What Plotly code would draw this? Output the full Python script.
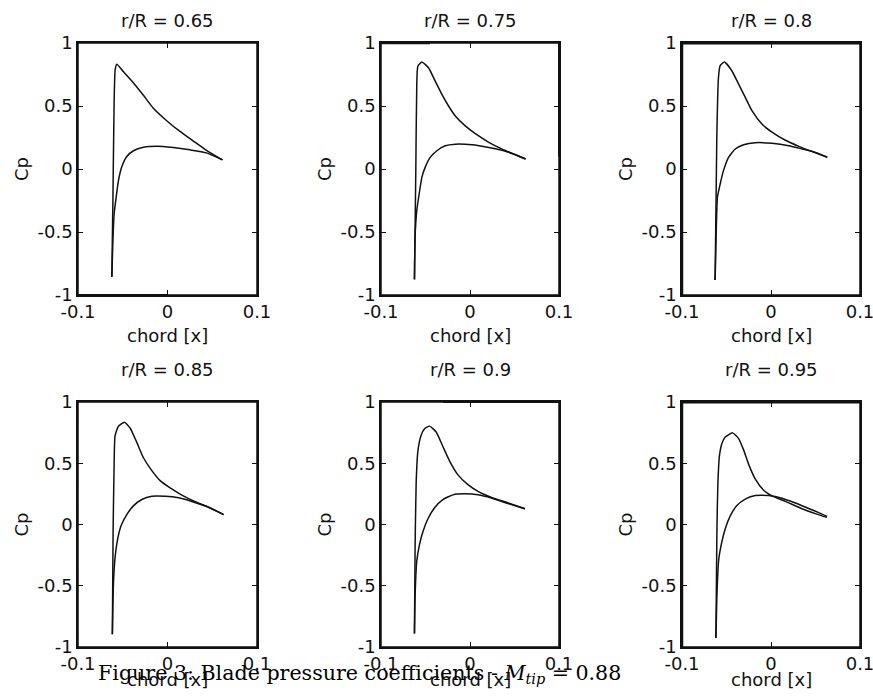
import plotly.graph_objects as go

W, H = 873, 700

titles = ["r/R = 0.65", "r/R = 0.75", "r/R = 0.8", "r/R = 0.85", "r/R = 0.9", "r/R = 0.95"]
x_ticks = [-0.1, 0, 0.1]
x_tick_labels = ["-0.1", "0", "0.1"]
y_ticks = [-1, -0.5, 0, 0.5, 1]
y_tick_labels = ["-1", "-0.5", "0", "0.5", "1"]
x_label = "chord [x]"
y_label = "Cp"
caption = "Figure 3: Blade pressure coefficients - <i>M</i><sub><i>tip</i></sub> = 0.88"

# r/R = 0.65
x_up_065 = [-0.0622, -0.061, -0.0596, -0.0584, -0.0566, -0.0492, -0.038, -0.0269, -0.0158, -0.0009, 0.0139, 0.0288, 0.0436, 0.0614]
cp_up_065 = [-0.856, -0.248, 0.552, 0.792, 0.832, 0.772, 0.683, 0.585, 0.482, 0.383, 0.298, 0.222, 0.148, 0.072]
x_lo_065 = [-0.0622, -0.061, -0.0596, -0.0573, -0.0547, -0.051, -0.0455, -0.038, -0.0269, -0.0121, 0.0065, 0.025, 0.0436, 0.0614]
cp_lo_065 = [-0.856, -0.568, -0.355, -0.221, -0.088, 0.019, 0.099, 0.145, 0.172, 0.18, 0.17, 0.152, 0.128, 0.072]

# r/R = 0.75
x_up_075 = [-0.0624, -0.0609, -0.0598, -0.0586, -0.0541, -0.0466, -0.0391, -0.0316, -0.0241, -0.0165, -0.0053, 0.006, 0.0211, 0.0361, 0.0511, 0.0624]
cp_up_075 = [-0.876, -0.013, 0.671, 0.816, 0.85, 0.803, 0.697, 0.592, 0.5, 0.421, 0.342, 0.28, 0.212, 0.158, 0.113, 0.079]
x_lo_075 = [-0.0624, -0.0617, -0.0598, -0.0571, -0.0541, -0.0504, -0.0447, -0.0372, -0.0278, -0.0165, 0.0023, 0.0211, 0.0361, 0.0511, 0.0624]
cp_lo_075 = [-0.876, -0.539, -0.329, -0.197, -0.066, 0.013, 0.092, 0.145, 0.184, 0.197, 0.192, 0.171, 0.148, 0.113, 0.079]

# r/R = 0.8
x_up_080 = [-0.0628, -0.0609, -0.059, -0.0571, -0.0523, -0.044, -0.0365, -0.0289, -0.0214, -0.0102, 0.0011, 0.0162, 0.0312, 0.0462, 0.0632]
cp_up_080 = [-0.881, 0.251, 0.728, 0.82, 0.849, 0.78, 0.675, 0.569, 0.463, 0.357, 0.293, 0.228, 0.18, 0.138, 0.093]
x_lo_080 = [-0.0628, -0.0617, -0.0602, -0.0571, -0.0534, -0.0477, -0.0402, -0.0308, -0.0177, 0.0011, 0.0199, 0.035, 0.05, 0.0632]
cp_lo_080 = [-0.881, -0.542, -0.225, -0.119, -0.013, 0.093, 0.159, 0.193, 0.209, 0.204, 0.185, 0.159, 0.132, 0.093]

# r/R = 0.85
x_up_085 = [-0.0616, -0.0608, -0.0597, -0.0586, -0.0549, -0.0481, -0.0418, -0.0343, -0.0269, -0.0175, -0.0082, 0.003, 0.016, 0.031, 0.0459, 0.0627]
cp_up_085 = [-0.895, -0.063, 0.461, 0.723, 0.801, 0.835, 0.788, 0.67, 0.545, 0.44, 0.358, 0.298, 0.24, 0.186, 0.141, 0.081]
x_lo_085 = [-0.0616, -0.0604, -0.0586, -0.0556, -0.0519, -0.0455, -0.0381, -0.0287, -0.0175, -0.0026, 0.0123, 0.0272, 0.0459, 0.0627]
cp_lo_085 = [-0.895, -0.482, -0.272, -0.115, -0.01, 0.081, 0.152, 0.204, 0.23, 0.23, 0.218, 0.188, 0.141, 0.081]

# r/R = 0.9
x_up_090 = [-0.0624, -0.0617, -0.0605, -0.0586, -0.0549, -0.0511, -0.0455, -0.038, -0.0305, -0.0229, -0.0135, -0.0023, 0.009, 0.0241, 0.0429, 0.0617]
cp_up_090 = [-0.889, -0.192, 0.334, 0.597, 0.729, 0.782, 0.803, 0.755, 0.637, 0.518, 0.405, 0.325, 0.27, 0.221, 0.176, 0.129]
x_lo_090 = [-0.0624, -0.0617, -0.0598, -0.0568, -0.053, -0.0474, -0.0398, -0.0305, -0.0192, -0.006, 0.009, 0.0241, 0.0429, 0.0617]
cp_lo_090 = [-0.889, -0.587, -0.297, -0.166, -0.061, 0.045, 0.137, 0.203, 0.242, 0.25, 0.242, 0.216, 0.171, 0.129]

# r/R = 0.95
x_up_095 = [-0.0619, -0.0608, -0.0597, -0.0578, -0.0552, -0.0514, -0.0432, -0.0364, -0.0308, -0.0251, -0.0176, -0.0083, 0.0011, 0.0161, 0.0349, 0.0499, 0.063]
cp_up_095 = [-0.927, -0.06, 0.333, 0.57, 0.661, 0.714, 0.748, 0.701, 0.609, 0.491, 0.37, 0.28, 0.234, 0.189, 0.129, 0.089, 0.058]
x_lo_095 = [-0.0619, -0.0608, -0.0589, -0.0559, -0.0514, -0.0458, -0.0383, -0.0289, -0.0176, -0.0026, 0.0124, 0.0274, 0.0424, 0.0537, 0.063]
cp_lo_095 = [-0.927, -0.585, -0.297, -0.165, -0.034, 0.071, 0.155, 0.207, 0.236, 0.236, 0.215, 0.176, 0.131, 0.097, 0.066]

series = [
    (x_up_065, cp_up_065, x_lo_065, cp_lo_065),
    (x_up_075, cp_up_075, x_lo_075, cp_lo_075),
    (x_up_080, cp_up_080, x_lo_080, cp_lo_080),
    (x_up_085, cp_up_085, x_lo_085, cp_lo_085),
    (x_up_090, cp_up_090, x_lo_090, cp_lo_090),
    (x_up_095, cp_up_095, x_lo_095, cp_lo_095),
]

# layout geometry (pixels)
col_px = [(78, 257), (381, 559), (682, 860)]
row_px = [(43, 295), (402, 647)]

FONT = "DejaVu Sans, Arial, sans-serif"
FS = 18
INK = "#111111"

# heavier frame edges seen in the scanned original: (panel, side, start, end, width)
heavy_edges = [
    (0, "bottom", -0.1, 0.0, 2),
    (1, "top", -0.1, -0.045, 2.5),
    (1, "right", 0.1, 1.0, 2),
    (2, "top", -0.1, 0.1, 3),
    (2, "left", -1.0, 1.0, 2.5),
    (4, "top", -0.03, 0.1, 2),
    (5, "top", -0.1, 0.1, 3),
    (5, "left", -1.0, 1.0, 2.5),
]

fig = go.Figure()
layout = dict(
    width=W, height=H,
    margin=dict(l=0, r=0, t=0, b=0, pad=0, autoexpand=False),
    paper_bgcolor="white", plot_bgcolor="white",
    showlegend=False,
    font=dict(family=FONT, size=FS, color=INK),
)

annotations = []
shapes = []
for i, (xu, cu, xl, cl) in enumerate(series):
    r, c = divmod(i, 3)
    n = "" if i == 0 else str(i + 1)
    xa, ya = "x" + n, "y" + n
    for xs, ys in ((xu, cu), (xl, cl)):
        fig.add_trace(go.Scatter(x=xs, y=ys, mode="lines", xaxis=xa, yaxis=ya,
                                 line=dict(color=INK, width=1.5, shape="spline", smoothing=0.5),
                                 hoverinfo="skip"))
    x0, x1 = col_px[c]
    y0, y1 = row_px[r]
    common = dict(showline=True, linecolor=INK, linewidth=1.5, mirror="ticks",
                  ticks="inside", ticklen=5, tickcolor=INK, tickwidth=1.2,
                  showgrid=False, zeroline=False, automargin=False,
                  ticklabeloverflow="allow",
                  tickfont=dict(family=FONT, size=FS, color=INK))
    layout["xaxis" + n] = dict(domain=[x0 / W, x1 / W], range=[-0.1, 0.1], anchor=ya,
                               tickvals=x_ticks, ticktext=x_tick_labels, **common)
    layout["yaxis" + n] = dict(domain=[1 - y1 / H, 1 - y0 / H], range=[-1, 1], anchor=xa,
                               tickvals=y_ticks, ticktext=y_tick_labels, **common)
    # frame
    shapes.append(dict(type="rect", xref=xa + " domain", yref=ya + " domain", x0=0, x1=1, y0=0, y1=1,
                       line=dict(color=INK, width=1.5), fillcolor="rgba(0,0,0,0)", layer="above"))
    cx = (x0 + x1) / 2
    ty = 20 if r == 0 else 369
    annotations.append(dict(text=titles[i], x=cx / W, y=1 - ty / H, xref="paper", yref="paper",
                            showarrow=False, xanchor="center", yanchor="middle",
                            font=dict(family=FONT, size=FS, color=INK)))
    ly = 335 if r == 0 else 679
    annotations.append(dict(text=x_label, x=cx / W, y=1 - ly / H, xref="paper", yref="paper",
                            showarrow=False, xanchor="center", yanchor="middle",
                            font=dict(family=FONT, size=FS, color=INK)))
    cy = (y0 + y1) / 2
    annotations.append(dict(text=y_label, x=(x0 - 57) / W, y=1 - cy / H, xref="paper", yref="paper",
                            showarrow=False, xanchor="center", yanchor="middle", textangle=-90,
                            font=dict(family=FONT, size=FS, color=INK)))

for (p, side, a, b, w) in heavy_edges:
    n = "" if p == 0 else str(p + 1)
    xa, ya = "x" + n, "y" + n
    if side in ("top", "bottom"):
        yy = 1 if side == "top" else 0
        shapes.append(dict(type="line", xref=xa, yref=ya + " domain", x0=a, x1=b, y0=yy, y1=yy,
                           line=dict(color=INK, width=w), layer="above"))
    else:
        xx = 0 if side == "left" else 1
        shapes.append(dict(type="line", xref=xa + " domain", yref=ya, x0=xx, x1=xx, y0=a, y1=b,
                           line=dict(color=INK, width=w), layer="above"))

annotations.append(dict(text=caption, x=96 / W, y=1 - 674 / H, xref="paper", yref="paper",
                        showarrow=False, xanchor="left", yanchor="middle",
                        font=dict(family="DejaVu Serif, Liberation Serif, serif", size=20.6, color="black")))

layout["annotations"] = annotations
layout["shapes"] = shapes
fig.update_layout(**layout)
fig.write_html("out.html", config={"displayModeBar": False},
               post_script="document.body.style.margin='0';document.body.style.overflow='hidden';")
